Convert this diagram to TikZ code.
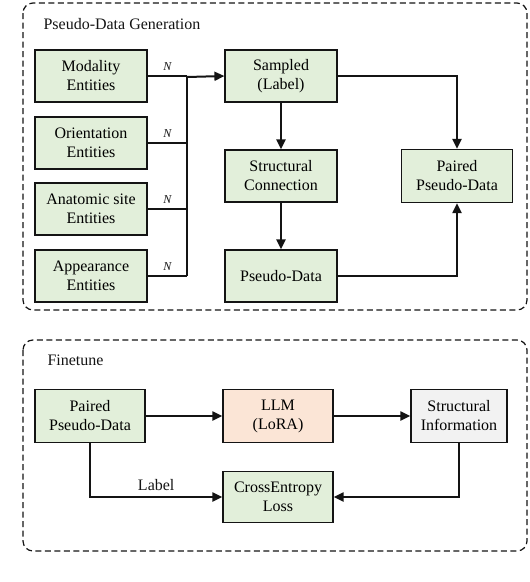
\documentclass[tikz,border=0pt]{standalone}
\usepackage{fontspec}
\setmainfont{Liberation Serif}
\usetikzlibrary{arrows.meta,positioning}
\definecolor{mint}{RGB}{226,239,218}
\definecolor{peach}{RGB}{251,229,214}
\definecolor{fog}{RGB}{242,242,242}
\definecolor{ink}{RGB}{20,20,20}
\tikzset{
  >={Triangle[length=10pt,width=9pt]},
  box/.style={draw=ink,fill=#1,line width=1.2pt,minimum width=112pt,minimum height=52pt,
    inner sep=0pt,align=center,font=\fontsize{16}{19}\selectfont},
  box/.default=mint,
  frame/.style={draw=ink,line width=1.2pt,dash pattern=on 6pt off 3.5pt,rounded corners=10pt},
  flow/.style={->,line width=2pt,draw=ink},
  wire/.style={line width=2pt,draw=ink},
  tag/.style={font=\fontsize{16}{19}\selectfont,text=ink},
  mult/.style={font=\fontsize{12}{12}\selectfont\itshape,text=ink},
}
\begin{document}
\begin{tikzpicture}[x=1pt,y=-1pt]
  \useasboundingbox (0,0) rectangle (530,582);
  % pseudo-data generation
  \draw[frame] (23,3) rectangle (527,310);
  \node[tag,anchor=base west] (gen) at (40,29) {Pseudo-Data Generation};
  \coordinate (jn) at (187,77);
  \foreach \n/\t/\y in {mod/Modality/76,ori/Orientation/143,ana/Anatomic site/209,app/Appearance/276}{
    \node[box] (\n) at (91,\y) {\t\\Entities};
    \draw[wire] (\n.east) -- (\n.east -| jn) node[mult,midway,above=1pt] {N};
  }
  \draw[wire] (app.east -| jn) -- (jn);
  \node[box] (smp) at (281,76) {Sampled\\(Label)};
  \node[box] (sc) at (281,176) {Structural\\Connection};
  \node[box] (pd) at (281,276) {Pseudo-Data};
  \node[box,minimum width=111pt,minimum height=53pt] (pair) at (457,176) {Paired\\Pseudo-Data};
  \draw[flow] (jn) -- (smp.west);
  \draw[flow] (smp) -- (sc);
  \draw[flow] (sc) -- (pd);
  \draw[flow] (smp.east) -| (pair.north);
  \draw[flow] (pd.east) -| (pair.south);
  % finetune
  \draw[frame] (23,340) rectangle (527,551);
  \node[tag,anchor=base west] (ft) at (44,365) {Finetune};
  \node[box,minimum width=110pt,minimum height=53pt] (pp) at (90,416) {Paired\\Pseudo-Data};
  \node[box=peach,minimum width=110pt,minimum height=53pt] (llm) at (278,416) {LLM\\(LoRA)};
  \node[box=fog,minimum width=96pt,minimum height=53pt] (si) at (459,416) {Structural\\Information};
  \node[box,minimum width=110pt,minimum height=51pt] (ce) at (278,497) {CrossEntropy\\Loss};
  \draw[flow] (pp) -- (llm);
  \draw[flow] (llm) -- (si);
  \draw[flow] (pp.south) |- (ce.west) node[tag,pos=0.75,above=2pt] {Label};
  \draw[flow] (si.south) |- (ce.east);
\end{tikzpicture}
\end{document}
